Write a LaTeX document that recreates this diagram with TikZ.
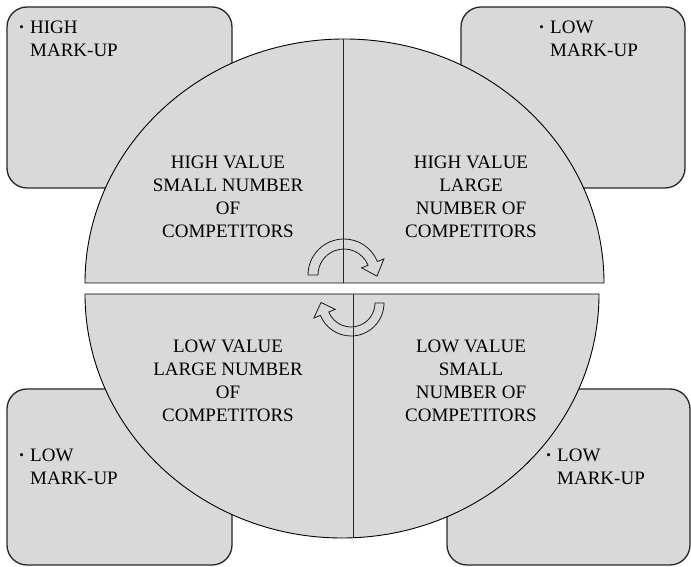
\documentclass[tikz,border=0pt]{standalone}
\usepackage{xcolor}
\usepackage{fontspec}
\setmainfont{Liberation Serif}
\usepackage{tikz}
\usetikzlibrary{positioning}

\definecolor{markgray}{RGB}{217,217,217}
\newcommand{\markdot}{\llap{\raisebox{2pt}{\fontsize{13}{13}\selectfont\textbullet}\,\,}}

\begin{document}
\begin{tikzpicture}[x=1pt,y=1pt,
  every node/.style={font=\fontsize{19}{23}\selectfont,inner sep=0pt},
  markbox/.style={draw=black!85,fill=markgray,rounded corners=20pt,line width=1.3pt},
  half/.style={draw=black,fill=markgray,line width=0.9pt},
  divider/.style={draw=black!85,line width=0.9pt},
  halflabel/.style={align=center},
  marklabel/.style={align=left,anchor=base west},
  turn/.style={draw=black!90,line width=0.8pt}]

    \useasboundingbox (0,0) rectangle (691,567);

    % mark-up boxes behind the circle
    \draw[markbox] (7,379) rectangle (232,560);
    \draw[markbox] (461,379) rectangle (685,560);
    \draw[markbox] (7,2) rectangle (232,178);
    \draw[markbox] (447,2) rectangle (690,178);

    % the two halves
    \draw[half] (85,284) arc[start angle=180,end angle=0,x radius=259.5,y radius=244] -- cycle;
    \draw[half] (85,273) arc[start angle=180,end angle=360,x radius=257,y radius=244] -- cycle;

    \coordinate (ubase) at (343,284);
    \coordinate (utop) at (343,528);
    \coordinate (lbase) at (353,273);
    \coordinate (lbot) at (353,29);
    \draw[divider] (ubase) -- (utop);
    \draw[divider] (lbase) -- (lbot);

    % turning arrows
    \coordinate (cu) at (344,292);
    \coordinate (cl) at (351,264);
    \draw[turn,shift={(cu)}] (180:36) arc[start angle=180,end angle=22,radius=36]
        -- (22:43) -- (-2:33) -- (22:19) -- (22:26)
        arc[start angle=22,end angle=180,radius=26] -- cycle;
    \draw[turn,shift={(cl)}] (0:33) arc[start angle=0,end angle=-158,radius=33]
        -- (-158:40) -- (-181:30) -- (-158:17) -- (-158:24)
        arc[start angle=-158,end angle=0,radius=24] -- cycle;

    \node[halflabel] (hismall) at (228,370) {HIGH VALUE\\SMALL NUMBER\\OF\\COMPETITORS};
    \node[halflabel] (hilarge) at (471,370) {HIGH VALUE\\LARGE\\NUMBER OF\\COMPETITORS};
    \node[halflabel] (lolarge) at (228,186) {LOW VALUE\\LARGE NUMBER\\OF\\COMPETITORS};
    \node[halflabel] (losmall) at (471,186) {LOW VALUE\\SMALL\\NUMBER OF\\COMPETITORS};

    \node[marklabel] (mtl) at (30,510.5) {\markdot HIGH\\MARK-UP};
    \node[marklabel] (mtr) at (550,510.5) {\markdot LOW\\MARK-UP};
    \node[marklabel] (mbl) at (30,82.5) {\markdot LOW\\MARK-UP};
    \node[marklabel] (mbr) at (557,82.5) {\markdot LOW\\MARK-UP};
\end{tikzpicture}
\end{document}
